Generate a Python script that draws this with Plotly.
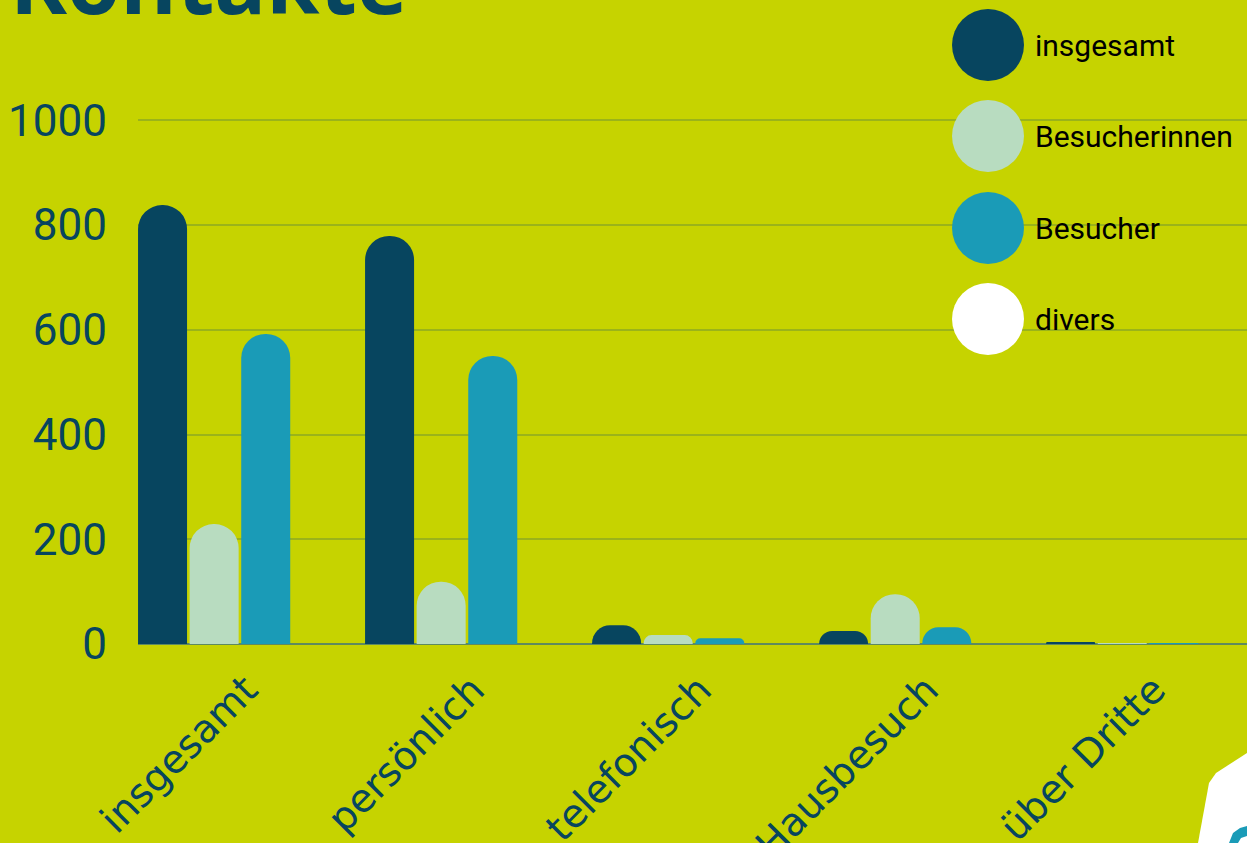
import plotly.graph_objects as go

categories = ["insgesamt", "persönlich", "telefonisch", "Hausbesuch", "über Dritte"]
series_names = ["insgesamt", "Besucherinnen", "Besucher", "divers"]
vals_insgesamt = [838, 779, 36, 25, 2]
vals_besucherinnen = [229, 119, 17, 95, 1]
vals_besucher = [592, 550, 11, 32, 1]
vals_divers = [0, 0, 0, 0, 0]
y_ticks = [0, 200, 400, 600, 800, 1000]

series_values = [vals_insgesamt, vals_besucherinnen, vals_besucher, vals_divers]
colors = ["#07455f", "#b8dcc0", "#1a9bb7", "#ffffff"]
BG = "#c6d300"
DARK = "#07455f"

W, H = 1247, 843
L, R, T, B = 138, 0, 115, 199
PW, PH = W - L - R, H - T - B
YMAX = 1010


def px(X):
    return (X - L) / PW


def py(Y):
    return (H - B - Y) / PH


fig = go.Figure()
for name, vals, col in zip(series_names, series_values, colors):
    fig.add_trace(go.Bar(x=categories, y=vals, name=name, marker_color=col,
                         marker_line_width=0, showlegend=False))

fig.update_layout(
    template="none",
    width=W, height=H, autosize=False,
    margin=dict(l=L, r=R, t=T, b=B, pad=0, autoexpand=False),
    paper_bgcolor=BG, plot_bgcolor=BG,
    barmode="group", bargap=0.091, bargroupgap=0.05,
    barcornerradius="50%",
    font=dict(family="Roboto", color=DARK),
    xaxis=dict(range=[-0.449, 4.436], tickangle=-45, showgrid=False, automargin=False,
               showline=False, ticks="", ticklabelstandoff=14, ticklabelshift=6,
               zeroline=False,
               tickfont=dict(family="DejaVu Sans", size=39, color=DARK)),
    yaxis=dict(range=[0, YMAX], tickvals=y_ticks, showgrid=True, automargin=False,
               gridcolor="#9ab31a", gridwidth=1.5, zeroline=True,
               zerolinecolor="#5f8a5e", zerolinewidth=2, ticks="", showline=False,
               ticklabelstandoff=30,
               tickfont=dict(family="Roboto", size=44, color=DARK)),
)

shapes = []
annotations = []
# Custom legend with large circles
leg_y = [45, 136, 228, 319]
for name, col, yy in zip(series_names, colors, leg_y):
    shapes.append(dict(type="circle", xref="paper", yref="paper",
                       xsizemode="pixel", ysizemode="pixel",
                       xanchor=px(988), yanchor=py(yy),
                       x0=-36, x1=36, y0=-36, y1=36,
                       fillcolor=col, line=dict(width=0), layer="above"))
    annotations.append(dict(text=name, xref="paper", yref="paper",
                            x=px(1033), y=py(yy), xanchor="left", yanchor="middle",
                            showarrow=False,
                            font=dict(family="Roboto", size=30, color="#000000")))

# Title (partially cut off at the top)
annotations.append(dict(text="<b>Kontakte</b>", xref="paper", yref="paper",
                        x=px(8), y=py(47), xanchor="left", yanchor="bottom",
                        yshift=6, showarrow=False,
                        font=dict(family="Open Sans", size=86, color=DARK)))

# Decorative corner element
pts = [(1247, 753), (1216, 773), (1209, 783), (1198, 843), (1247, 843)]
path = "M " + " L ".join(f"{px(a)} {py(b)}" for a, b in pts) + " Z"
shapes.append(dict(type="path", xref="paper", yref="paper", path=path,
                   fillcolor="#ffffff", line=dict(width=0), layer="above"))
arc = [(1229, 843), (1233, 833), (1240, 828), (1247, 826), (1247, 836), (1241, 838), (1238, 843)]
path2 = "M " + " L ".join(f"{px(a)} {py(b)}" for a, b in arc) + " Z"
shapes.append(dict(type="path", xref="paper", yref="paper", path=path2,
                   fillcolor="#1a9bb7", line=dict(width=0), layer="above"))

fig.update_layout(shapes=shapes, annotations=annotations)
fig.write_html("out.html", config={"displayModeBar": False, "responsive": False},
               post_script="document.body.style.margin='0';document.body.style.overflow='hidden';")
